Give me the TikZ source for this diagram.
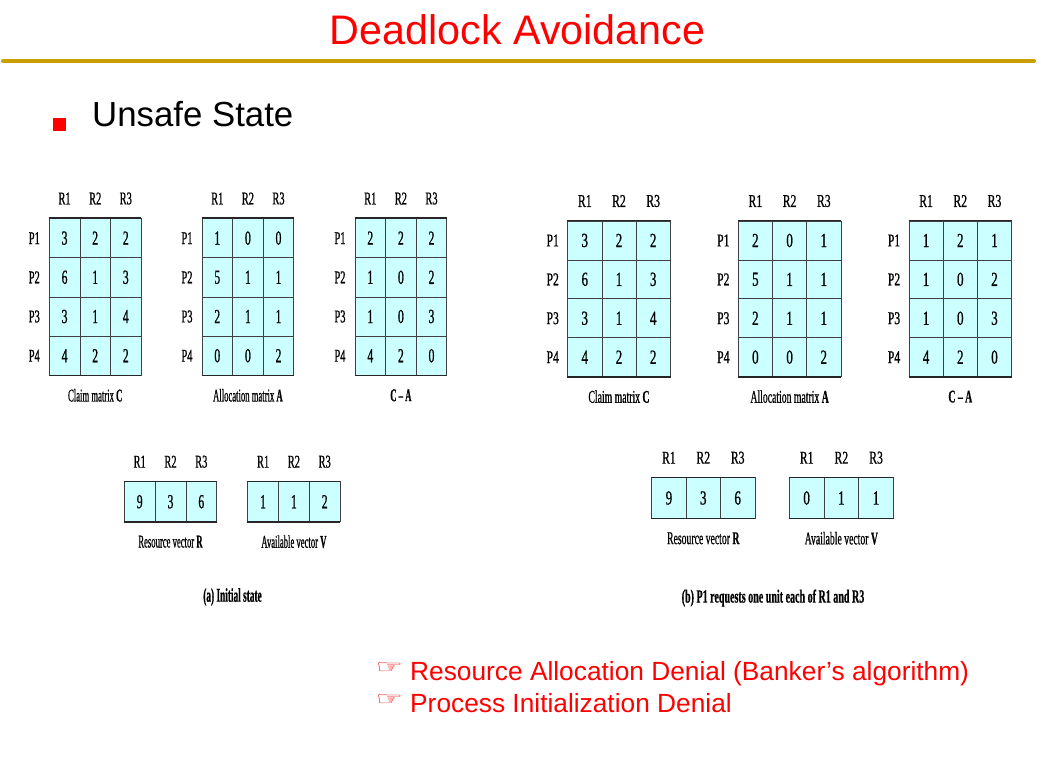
\documentclass[tikz,border=0pt]{standalone}
\usepackage{fontspec}
\setmainfont{Liberation Sans}
\newfontfamily\fa[FakeStretch=0.58,FakeBold=0.8]{Liberation Serif}
\newfontfamily\fb[FakeStretch=0.65,FakeBold=0.8]{Liberation Serif}
\newfontfamily\ca[FakeStretch=0.48,FakeBold=0.6]{Liberation Serif}
\newfontfamily\cb[FakeStretch=0.54,FakeBold=0.6]{Liberation Serif}
\newfontfamily\symfont{DejaVu Sans}
\def\cellfontA{\fa\fontsize{20}{20}\selectfont}
\def\cellfontB{\fb\fontsize{20}{20}\selectfont}
\def\labfontA{\fa\fontsize{18}{18}\selectfont}
\def\labfontB{\fb\fontsize{18}{18}\selectfont}
\def\capfontA{\ca\fontsize{18}{18}\selectfont}
\def\capfontB{\cb\fontsize{18}{18}\selectfont}
\definecolor{titlered}{RGB}{255,0,0}
\definecolor{gold}{RGB}{200,158,0}
\definecolor{cellfill}{RGB}{204,255,255}
\tikzset{
  cell/.style={draw=black!75, line width=0.7pt, fill=cellfill, inner sep=0pt, anchor=center},
  thickedge/.style={draw=black!85, line width=1.6pt},
  lab/.style={inner sep=0pt},
}
% #1 name, #2 left, #3 top, #4 col width, #5 row height, #6 rows, #7 values, #8 caption, #9 font set (A or B)
\newcommand\resmat[9]{%
  \foreach \rowvals [count=\i] in {#7} {
    \foreach \v [count=\j] in \rowvals {
      \node[cell, minimum width=#4pt, minimum height=#5pt,
            font=\csname cellfont#9\endcsname]
        (#1-\i-\j) at ({#2+(\j-0.5)*#4}, {#3+(\i-0.5)*#5}) {\v};
    }
  }
  \draw[thickedge] (#1-1-1.north west) -- (#1-1-3.north east);
  \draw[thickedge] (#1-#6-1.south west) -- (#1-#6-3.south east);
  \foreach \j in {1,2,3}
    \node[lab, font=\csname labfont#9\endcsname]
      (#1-h\j) at ({#2+(\j-0.5)*#4}, {#3-20}) {R\j};
  \ifnum#6>1
    \foreach \i in {1,...,#6}
      \node[lab, font=\csname labfont#9\endcsname]
        (#1-p\i) at ({#2-15}, {#3+(\i-0.5)*#5}) {P\i};
  \fi
  \node[lab, font=\csname capfont#9\endcsname]
    (#1-cap) at ({#2+1.5*#4}, {#3+#6*#5+20}) {#8};
}
\begin{document}
\begin{tikzpicture}[x=1pt,y=-1pt]
\useasboundingbox[fill=white] (0,0) rectangle (1037,776);
% title
\node[lab, anchor=base, text=titlered, font=\fontsize{41.3}{41.3}\selectfont] (title) at (517.5,45) {Deadlock Avoidance};
\draw[gold, line width=4pt, line cap=round] (3,61) -- (1034,61);
% bullet
\node[fill=red, minimum size=13pt, inner sep=0pt] (bullet) at (59,124) {};
\node[lab, anchor=base west, font=\fontsize{34.8}{34.8}\selectfont] (sub) at (92,127) {Unsafe State};
% (a) initial state
\resmat{aC}{49.3}{218.5}{30.6}{39.2}{4}{{3,2,2},{6,1,3},{3,1,4},{4,2,2}}{Claim matrix \textbf{C}}{A}
\resmat{aA}{202}{218.5}{30.6}{39.2}{4}{{1,0,0},{5,1,1},{2,1,1},{0,0,2}}{Allocation matrix \textbf{A}}{A}
\resmat{aD}{355}{218.5}{30.6}{39.2}{4}{{2,2,2},{1,0,2},{1,0,3},{4,2,0}}{\textbf{C – A}}{A}
\resmat{aR}{124.3}{481.7}{30.8}{40}{1}{{9,3,6}}{Resource vector \textbf{R}}{A}
\resmat{aV}{247.7}{481.7}{30.8}{40}{1}{{1,1,2}}{Available vector \textbf{V}}{A}
\node[lab, font=\ca\bfseries\fontsize{19.4}{19.4}\selectfont] (acap) at (232.5,597) {(a) Initial state};
% (b) P1 requests
\resmat{bC}{567.7}{221}{34.2}{38.9}{4}{{3,2,2},{6,1,3},{3,1,4},{4,2,2}}{Claim matrix \textbf{C}}{B}
\resmat{bA}{738.3}{221}{34.2}{38.9}{4}{{2,0,1},{5,1,1},{2,1,1},{0,0,2}}{Allocation matrix \textbf{A}}{B}
\resmat{bD}{909}{221}{34.2}{38.9}{4}{{1,2,1},{1,0,2},{1,0,3},{4,2,0}}{\textbf{C – A}}{B}
\resmat{bR}{651.7}{477.7}{34.4}{40.6}{1}{{9,3,6}}{Resource vector \textbf{R}}{B}
\resmat{bV}{789.3}{477.7}{34.7}{40.6}{1}{{0,1,1}}{Available vector \textbf{V}}{B}
\node[lab, font=\cb\bfseries\fontsize{18.6}{18.6}\selectfont] (bcap) at (773,598) {(b) P1 requests one unit each of R1 and R3};
% bottom bullets
\node[lab, text=titlered, font=\symfont\fontsize{19}{19}\selectfont] (h1) at (389.5,668.5) {\scalebox{1.6}[1]{☞}};
\node[lab, anchor=base west, text=titlered, font=\fontsize{26.3}{26.3}\selectfont] (t1) at (410,680) {Resource Allocation Denial (Banker’s algorithm)};
\node[lab, text=titlered, font=\symfont\fontsize{19}{19}\selectfont] (h2) at (389.5,700.5) {\scalebox{1.6}[1]{☞}};
\node[lab, anchor=base west, text=titlered, font=\fontsize{26.3}{26.3}\selectfont] (t2) at (410,712) {Process Initialization Denial};
\end{tikzpicture}
\end{document}
